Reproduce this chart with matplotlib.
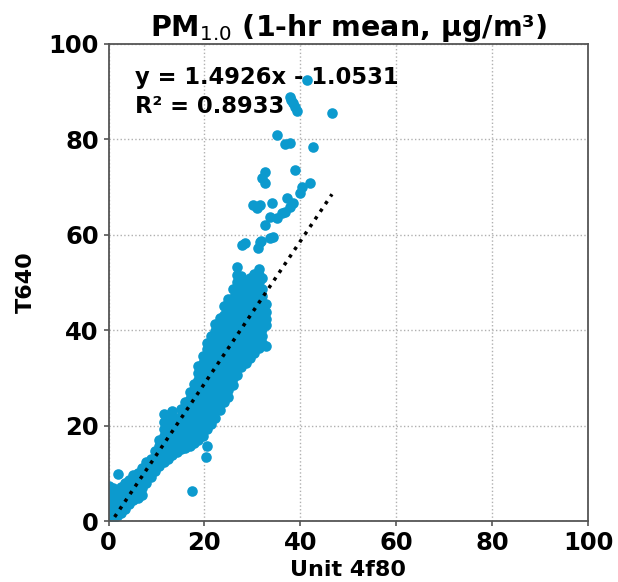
import numpy as np
import matplotlib
matplotlib.use("Agg")
import matplotlib.pyplot as plt

# Hourly PM1.0 pairs: Unit 4f80 (x) vs T640 reference (y), ug/m3
low_x = [0.2]*6 + [0.9]*6 + [1.7]*5 + [2.5]*5 + [3.4]*5 + [4.3]*5 + [5.2]*5 + [6.1]*5 + [7.0]*5 + [7.9]*4 + [8.8]*4 + [9.7]*4 + [2.0]
low_y = [0.5, 1.9, 3.3, 4.7, 6.1, 7.3,
         0.4, 1.8, 3.2, 4.6, 6.0, 6.9,
         1.0, 2.4, 3.8, 5.2, 6.6,
         1.7, 3.1, 4.5, 5.9, 7.2,
         2.6, 4.0, 5.4, 6.8, 7.9,
         3.5, 4.9, 6.3, 7.6, 8.6,
         4.3, 5.7, 7.1, 8.4, 9.6,
         4.8, 6.3, 7.7, 9.1, 10.1,
         5.5, 6.9, 8.3, 9.7, 11.2,
         8.0, 9.3, 10.7, 12.3,
         9.2, 10.3, 11.7, 13.1,
         10.4, 11.6, 13.0, 14.6,
         9.8]

mid_x = ([10.6]*5 + [11.5]*8 + [12.4]*6 + [13.3]*8 + [14.2]*6 + [15.1]*7 + [16.0]*8
         + [16.9]*9 + [17.8]*10 + [18.7]*12 + [19.6]*13 + [17.4, 20.5, 20.3])
mid_y = [11.6, 12.9, 14.3, 15.7, 16.9,
         12.4, 13.7, 15.1, 16.5, 17.9, 19.3, 20.7, 22.4,
         13.1, 14.5, 15.9, 17.3, 18.7, 20.0,
         13.8, 15.2, 16.6, 18.0, 19.4, 20.8, 21.9, 23.0,
         14.5, 15.9, 17.3, 18.7, 20.1, 21.3,
         15.0, 16.4, 17.8, 19.2, 20.6, 22.0, 23.4,
         15.4, 16.8, 18.2, 19.6, 21.0, 22.4, 23.8, 24.9,
         15.8, 17.2, 18.6, 20.0, 21.4, 22.8, 24.2, 25.6, 27.1,
         16.3, 17.7, 19.1, 20.5, 21.9, 23.3, 24.7, 26.1, 27.5, 28.8,
         16.9, 18.3, 19.7, 21.1, 22.5, 23.9, 25.3, 26.7, 28.1, 29.5, 31.0, 32.4,
         17.8, 19.2, 20.6, 22.0, 23.4, 24.8, 26.2, 27.6, 29.0, 30.4, 31.8, 33.2, 34.5,
         6.3, 15.7, 13.4]

high_x = ([20.5]*14 + [21.4]*14 + [22.3]*15 + [23.2]*15 + [24.1]*15 + [25.0]*16 + [25.9]*15
          + [26.8]*17 + [27.7]*15 + [28.6]*13 + [29.5]*13 + [30.4]*13 + [31.3]*13 + [32.1]*10 + [32.9]*5)
high_y = [19.2, 20.6, 22.0, 23.4, 24.8, 26.2, 27.6, 29.0, 30.4, 31.8, 33.2, 34.6, 36.0, 37.3,
          20.4, 21.8, 23.2, 24.6, 26.0, 27.4, 28.8, 30.2, 31.6, 33.0, 34.4, 35.8, 37.2, 38.7,
          21.6, 23.0, 24.4, 25.8, 27.2, 28.6, 30.0, 31.4, 32.8, 34.2, 35.6, 37.0, 38.4, 39.8, 41.2,
          23.2, 24.6, 26.0, 27.4, 28.8, 30.2, 31.6, 33.0, 34.4, 35.8, 37.2, 38.6, 40.0, 41.4, 42.5,
          24.9, 26.3, 27.7, 29.1, 30.5, 31.9, 33.3, 34.7, 36.1, 37.5, 38.9, 40.3, 41.7, 43.1, 45.0,
          26.0, 27.4, 28.8, 30.2, 31.6, 33.0, 34.4, 35.8, 37.2, 38.6, 40.0, 41.4, 42.8, 44.2, 45.6, 46.6,
          28.6, 30.0, 31.4, 32.8, 34.2, 35.6, 37.0, 38.4, 39.8, 41.2, 42.6, 44.0, 45.4, 46.8, 48.6,
          30.6, 32.0, 33.4, 34.8, 36.2, 37.6, 39.0, 40.4, 41.8, 43.2, 44.6, 46.0, 47.4, 48.8, 50.2, 51.6, 53.2,
          32.2, 33.6, 35.0, 36.4, 37.8, 39.2, 40.6, 42.0, 43.4, 44.8, 46.2, 47.6, 49.0, 50.4, 51.4,
          33.2, 34.6, 36.0, 37.4, 38.8, 40.2, 41.6, 43.0, 44.4, 45.8, 47.2, 48.6, 49.8,
          34.1, 35.5, 36.9, 38.3, 39.7, 41.1, 42.5, 43.9, 45.3, 46.7, 48.1, 49.5, 50.9,
          35.2, 36.6, 38.0, 39.4, 40.8, 42.2, 43.6, 45.0, 46.4, 47.8, 49.2, 50.6, 51.8,
          36.2, 37.6, 39.0, 40.4, 41.8, 43.2, 44.6, 46.0, 47.4, 48.8, 50.2, 51.6, 52.8,
          37.4, 38.8, 40.2, 41.6, 43.0, 44.4, 45.8, 47.2, 48.6, 51.0,
          36.6, 41.0, 42.4, 43.8, 45.4]

peak_x = [41.4, 37.8, 38.1, 38.5, 38.9, 39.3, 46.6, 35.1, 36.8, 37.8, 42.7,
          32.6, 32.0, 32.6, 38.9, 40.3, 42.0, 39.9, 37.2, 30.2, 31.0, 31.5,
          34.1, 37.9, 38.5, 36.8, 36.1, 33.7, 35.1, 32.6, 34.3, 33.7,
          31.6, 31.9, 27.8, 28.5, 31.2]
peak_y = [92.5, 88.9, 88.3, 87.6, 86.8, 85.9, 85.5, 80.9, 79.0, 79.2, 78.4,
          73.2, 71.9, 70.9, 73.6, 70.0, 70.9, 68.8, 67.7, 66.2, 65.6, 66.2,
          66.7, 65.9, 66.6, 64.8, 64.5, 63.7, 63.5, 62.0, 59.5, 59.3,
          58.5, 58.8, 57.9, 58.3, 57.2]

slope = 1.4926
intercept = -1.0531
r_squared = 0.8933

x_ticks = [0, 20, 40, 60, 80, 100]
y_ticks = [0, 20, 40, 60, 80, 100]

unit_4f80 = np.array(low_x + mid_x + high_x + peak_x)
t640 = np.array(low_y + mid_y + high_y + peak_y)

fig = plt.figure(figsize=(6.18, 5.82), dpi=100)
ax = fig.add_axes([0.1756, 0.1048, 0.7759, 0.8196])

ax.scatter(unit_4f80, t640, s=58, color="#0c9ace", linewidths=0, zorder=2)

fit_x = np.array([unit_4f80.min(), unit_4f80.max()])
ax.plot(fit_x, slope * fit_x + intercept, color="black", linestyle=":",
        linewidth=2.5, zorder=3)

ax.set_xlim(0, 100)
ax.set_ylim(0, 100)
ax.set_xticks(x_ticks)
ax.set_yticks(y_ticks)
ax.grid(True, linestyle=":", color="#b0b0b0", linewidth=1.0, zorder=0)
ax.set_axisbelow(True)

for sp in ax.spines.values():
    sp.set_color("#555555")
    sp.set_linewidth(1.3)
ax.tick_params(colors="#555555", labelcolor="black", labelsize=17.5, width=1.2)
for lab in ax.get_xticklabels() + ax.get_yticklabels():
    lab.set_fontweight("bold")

ax.set_xlabel("Unit 4f80", fontsize=16, fontweight="bold")
ax.set_ylabel("T640", fontsize=16, fontweight="bold", labelpad=9)
ax.set_title(r"PM$_{1.0}$ (1-hr mean, µg/m³)", fontsize=20.5, fontweight="bold")

sign = "-" if intercept < 0 else "+"
ax.text(5.5, 95.3, f"y = {slope:.4f}x {sign} {abs(intercept):.4f}\nR² = {r_squared:.4f}",
        fontsize=16.3, fontweight="bold", va="top", ha="left", linespacing=1.3, zorder=1)

fig.savefig("out.png", dpi=100)
